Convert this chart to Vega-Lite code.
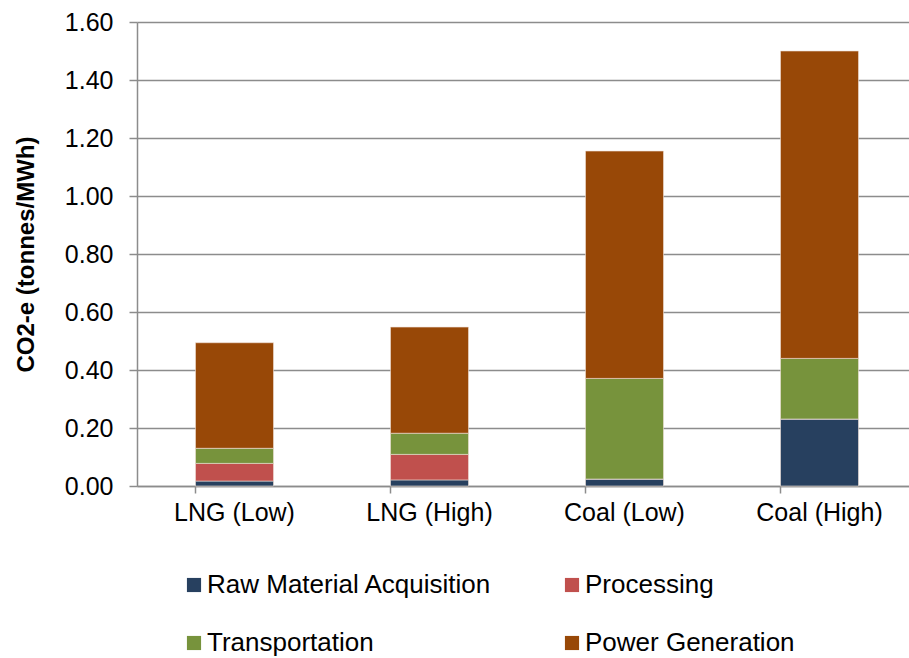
{
  "$schema": "https://vega.github.io/schema/vega-lite/v6.json",
  "width": 772,
  "height": 464,
  "autosize": {"type": "none"},
  "padding": {"left": 137, "top": 22, "right": 0, "bottom": 172},
  "background": "white",
  "config": {
    "font": "Liberation Sans",
    "view": {"stroke": null}
  },
  "data": {
    "values": [
      {"fuel": "LNG (Low)", "stage": "Raw Material Acquisition", "order": 1, "value": 0.017},
      {"fuel": "LNG (Low)", "stage": "Processing", "order": 2, "value": 0.061},
      {"fuel": "LNG (Low)", "stage": "Transportation", "order": 3, "value": 0.052},
      {"fuel": "LNG (Low)", "stage": "Power Generation", "order": 4, "value": 0.364},
      {"fuel": "LNG (High)", "stage": "Raw Material Acquisition", "order": 1, "value": 0.021},
      {"fuel": "LNG (High)", "stage": "Processing", "order": 2, "value": 0.088},
      {"fuel": "LNG (High)", "stage": "Transportation", "order": 3, "value": 0.073},
      {"fuel": "LNG (High)", "stage": "Power Generation", "order": 4, "value": 0.366},
      {"fuel": "Coal (Low)", "stage": "Raw Material Acquisition", "order": 1, "value": 0.024},
      {"fuel": "Coal (Low)", "stage": "Processing", "order": 2, "value": 0.0},
      {"fuel": "Coal (Low)", "stage": "Transportation", "order": 3, "value": 0.347},
      {"fuel": "Coal (Low)", "stage": "Power Generation", "order": 4, "value": 0.784},
      {"fuel": "Coal (High)", "stage": "Raw Material Acquisition", "order": 1, "value": 0.231},
      {"fuel": "Coal (High)", "stage": "Processing", "order": 2, "value": 0.0},
      {"fuel": "Coal (High)", "stage": "Transportation", "order": 3, "value": 0.209},
      {"fuel": "Coal (High)", "stage": "Power Generation", "order": 4, "value": 1.06}
    ]
  },
  "mark": {"type": "bar", "stroke": "#f0e0d8", "strokeWidth": 0.6},
  "encoding": {
    "x": {
      "field": "fuel",
      "type": "nominal",
      "sort": ["LNG (Low)", "LNG (High)", "Coal (Low)", "Coal (High)"],
      "scale": {"range": [0, 780], "paddingInner": 0.6, "paddingOuter": 0.3},
      "axis": {
        "title": null,
        "labelAngle": 0,
        "labelFontSize": 25,
        "labelColor": "#000000",
        "labelPadding": 7,
        "bandPosition": 0,
        "domainColor": "#8c8c8c",
        "domainWidth": 1.5,
        "tickColor": "#8c8c8c",
        "tickWidth": 1.5,
        "tickSize": 7,
        "grid": false
      }
    },
    "y": {
      "field": "value",
      "type": "quantitative",
      "stack": "zero",
      "scale": {"domain": [0, 1.6], "nice": false},
      "axis": {
        "title": "CO2-e (tonnes/MWh)",
        "titleFontSize": 24,
        "titleFontWeight": "bold",
        "titleColor": "#000000",
        "titlePadding": 26,
        "values": [0, 0.2, 0.4, 0.6, 0.8, 1.0, 1.2, 1.4, 1.6],
        "format": ".2f",
        "labelFontSize": 25,
        "labelColor": "#000000",
        "labelPadding": 16,
        "domainColor": "#8c8c8c",
        "domainWidth": 1.5,
        "tickColor": "#8c8c8c",
        "tickWidth": 1.5,
        "tickSize": 8,
        "grid": true,
        "gridColor": "#8c8c8c",
        "gridWidth": 1.5
      }
    },
    "color": {
      "field": "stage",
      "type": "nominal",
      "scale": {
        "domain": ["Raw Material Acquisition", "Processing", "Transportation", "Power Generation"],
        "range": ["#27405f", "#c0504d", "#77933c", "#984807"]
      },
      "legend": {
        "title": null,
        "orient": "none",
        "legendX": 44,
        "legendY": 550,
        "columns": 2,
        "direction": "horizontal",
        "symbolType": "square",
        "symbolSize": 200,
        "symbolStrokeWidth": 0,
        "labelFontSize": 26,
        "labelColor": "#000000",
        "labelOffset": 0,
        "columnPadding": 67,
        "rowPadding": 32,
        "padding": 0,
        "labelLimit": 500
      }
    },
    "order": {"field": "order", "type": "quantitative"}
  }
}
